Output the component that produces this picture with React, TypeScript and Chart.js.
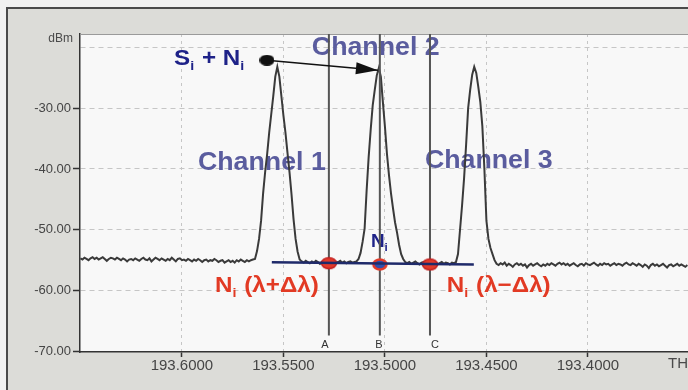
import React, { useEffect, useRef } from "react";
import { Chart, registerables } from "chart.js";

Chart.register(...registerables);

// ---- trace sampling (spectrum analyser grid, THz) ----
const FREQ_START = 193.65;
const FREQ_STEP = 0.001;

// ---- measured power values (dBm), in sample order ----
const noiseLeft = [
  -54.7, -54.9, -54.6, -54.8, -55.0, -54.7, -54.5, -54.8, -54.6, -54.9,
  -54.7, -54.5, -54.8, -55.1, -54.8, -54.6, -54.7, -54.9, -54.6, -54.8,
  -55.0, -54.7, -54.9, -55.2, -54.9, -54.8, -55.0, -54.7, -54.9, -55.1,
  -54.8, -54.6, -54.9, -55.0, -54.7, -55.2, -54.9, -54.6, -54.8, -55.0,
  -54.7, -54.9, -55.1, -54.8, -55.0, -54.6, -54.9, -55.2, -54.8, -54.7,
  -55.0, -54.9, -55.1, -54.8, -55.0, -55.2, -54.9, -55.1, -54.8, -55.0,
  -55.3, -55.0, -54.9, -55.2, -55.0, -55.1, -54.8, -55.0, -55.3, -55.1,
  -55.0, -55.4, -55.2, -55.0, -55.3, -55.1, -55.4, -55.0, -55.2, -54.9,
  -55.1, -55.3, -55.0, -55.2, -55.0, -54.9,
];
const channel1 = [
  -54.8, -53.5, -51.5, -48.5, -44.0, -40.5, -37.5, -34.0, -31.0, -28.0, -24.8,
  -23.2,
  -24.8, -28.0, -31.2, -34.0, -37.3, -40.5, -44.2, -48.3, -51.5, -53.6, -54.9,
];
const noiseBetween12 = [
  -55.2, -55.4, -55.1, -55.3, -55.5, -55.2, -55.4, -55.1, -55.3, -55.6,
  -55.3, -55.2, -55.4, -55.0, -55.3, -55.5, -55.2, -55.4, -55.3, -55.1,
  -55.4, -55.2, -55.5, -55.3, -55.2, -55.4, -55.3,
];
const channel2 = [
  -55.2, -54.8, -53.8, -52.0, -49.8, -43.5, -38.0, -33.5, -29.5, -27.0, -24.6,
  -23.4,
  -24.8, -29.0, -33.0, -37.5, -41.0, -44.0, -46.5, -48.8, -50.5, -52.5, -54.0, -54.8, -55.3,
];
const noiseBetween23 = [
  -55.5, -55.3, -55.6, -55.4, -55.2, -55.5, -55.7, -55.4, -55.3, -55.6,
  -55.4, -55.5, -55.2, -55.6, -55.4, -55.7, -55.5, -55.3, -55.6, -55.4,
  -55.5, -55.7, -55.4, -55.5,
];
const channel3 = [
  -55.3, -54.0, -50.0, -46.0, -41.5, -36.0, -30.0, -27.0, -24.5,
  -23.2,
  -24.2, -26.5, -29.0, -33.0, -40.0, -48.5, -51.5, -53.0, -54.0, -55.0, -55.6,
];
const noiseRight = [
  -55.8, -55.5, -55.7, -55.4, -55.9, -55.6, -55.8, -56.1, -55.7, -55.5,
  -55.8, -55.6, -55.9, -55.7, -56.2, -55.8, -55.6, -55.9, -55.7, -55.5,
  -55.8, -56.0, -55.7, -55.9, -55.6, -55.8, -55.5, -55.7, -55.9, -55.6,
  -55.4, -55.7, -55.5, -55.8, -55.6, -55.9, -55.7, -55.5, -55.8, -56.0,
  -55.7, -55.6, -55.9, -55.5, -55.7, -55.8, -55.6, -55.4, -55.7, -55.9,
  -55.6, -55.8, -55.5, -55.7, -55.6, -55.9, -55.7, -55.5, -55.8, -55.6,
  -55.7, -55.9, -55.6, -55.4, -55.7, -55.8, -55.5, -55.7, -55.9, -55.6,
  -55.8, -56.1, -55.7, -55.9, -56.3, -55.8, -55.6, -55.9, -55.7, -56.0,
  -55.8, -55.6, -55.9, -56.2, -55.8, -55.7, -56.0, -55.8, -55.6, -55.9,
  -55.7, -55.9, -56.1, -55.8,
];
const traceDbm = [
  ...noiseLeft, ...channel1, ...noiseBetween12, ...channel2,
  ...noiseBetween23, ...channel3, ...noiseRight,
];

// ---- axes ----
const xTickValues = [193.4, 193.45, 193.5, 193.55, 193.6];
const yTickValues = [-70, -60, -50, -40, -30, -20];
const xMin = 193.3507;
const xMax = 193.6502;
const yMin = -70.1;
const yMax = -17.8;
const yUnit = "dBm";
const xUnit = "THz";

// ---- markers A / B / C ----
const markerNames = ["A", "B", "C"];
const markerFreqs = [193.5276, 193.5025, 193.4778];
const markerBottomDbm = -67.4;
const markerLabelDbm = -69.5;
const markerLabelFreqs = [193.5296, 193.503, 193.4754];

// ---- noise level line and measuring points ----
const noiseLineFreqs = [193.5557, 193.4562];
const noiseLineDbm = [-55.35, -55.7];
const noisePointDbm = [-55.5, -55.7, -55.7];

// ---- S+N arrow ----
const arrowFreqs = [193.5581, 193.50345];
const arrowDbm = [-22.1, -23.75];

// ---- annotation texts (anchored in data coordinates, left/baseline) ----
const CH_COLOR = "#5a5c9e";
const NAVY = "#1e2288";
const RED = "#e23a24";
type Part = { t: string; sub?: boolean };
const annotations: { parts: Part[]; f: number; db: number; size: number; color: string; stretch: number }[] = [
  { parts: [{ t: "Channel 1" }], f: 193.5921, db: -40.2, size: 25, color: CH_COLOR, stretch: 1.07 },
  { parts: [{ t: "Channel 2" }], f: 193.536, db: -21.3, size: 25, color: CH_COLOR, stretch: 1.07 },
  { parts: [{ t: "Channel 3" }], f: 193.4803, db: -39.9, size: 25, color: CH_COLOR, stretch: 1.07 },
  { parts: [{ t: "S" }, { t: "i", sub: true }, { t: " + N" }, { t: "i", sub: true }], f: 193.6039, db: -22.9, size: 22, color: NAVY, stretch: 1.1 },
  { parts: [{ t: "N" }, { t: "i", sub: true }], f: 193.5069, db: -52.9, size: 18, color: NAVY, stretch: 1.05 },
  { parts: [{ t: "N" }, { t: "i", sub: true }, { t: " (λ+Δλ)" }], f: 193.5837, db: -60.3, size: 22, color: RED, stretch: 1.1 },
  { parts: [{ t: "N" }, { t: "i", sub: true }, { t: " (λ−Δλ)" }], f: 193.4695, db: -60.3, size: 22, color: RED, stretch: 1.1 },
];

const FONT = '"Liberation Sans", Arial, sans-serif';

function ellipseImage(fill: string, stroke: string, w: number, h: number, lw: number) {
  const c = document.createElement("canvas");
  c.width = Math.ceil(w + lw * 2);
  c.height = Math.ceil(h + lw * 2);
  const g = c.getContext("2d")!;
  g.beginPath();
  g.ellipse(c.width / 2, c.height / 2, w / 2, h / 2, 0, 0, Math.PI * 2);
  g.fillStyle = fill;
  g.fill();
  if (lw > 0) {
    g.lineWidth = lw;
    g.strokeStyle = stroke;
    g.stroke();
  }
  return c;
}

const framePlugin = {
  id: "frame",
  beforeDraw(chart: any) {
    const { ctx, width, height, chartArea } = chart;
    ctx.save();
    ctx.fillStyle = "#f1f1f1";
    ctx.fillRect(0, 0, width, height);
    ctx.fillStyle = "#dcdcd8";
    ctx.fillRect(7, 8, width - 7, height - 8);
    ctx.strokeStyle = "#4a4a4a";
    ctx.lineWidth = 2;
    ctx.beginPath();
    ctx.moveTo(7, height);
    ctx.lineTo(7, 8);
    ctx.lineTo(width, 8);
    ctx.stroke();
    ctx.fillStyle = "#f8f8f8";
    ctx.fillRect(chartArea.left, chartArea.top, chartArea.right - chartArea.left, chartArea.bottom - chartArea.top);
    ctx.restore();
  },
  beforeDatasetsDraw(chart: any) {
    const { ctx, chartArea, scales } = chart;
    const xs = scales.x;
    const ys = scales.y;
    ctx.save();
    ctx.strokeStyle = "#9a9a9a";
    ctx.lineWidth = 1;
    ctx.beginPath();
    ctx.moveTo(chartArea.left, chartArea.top + 0.5);
    ctx.lineTo(chartArea.right, chartArea.top + 0.5);
    ctx.stroke();

    // annotations (drawn beneath the traces, as in the original)
    ctx.textAlign = "left";
    ctx.textBaseline = "alphabetic";
    annotations.forEach((a) => {
      const px = xs.getPixelForValue(a.f);
      const py = ys.getPixelForValue(a.db);
      ctx.save();
      ctx.translate(px, py);
      ctx.scale(a.stretch, 1);
      ctx.fillStyle = a.color;
      let cx = 0;
      a.parts.forEach((p) => {
        const sz = p.sub ? Math.round(a.size * 0.6) : a.size;
        ctx.font = `bold ${sz}px ${FONT}`;
        ctx.fillText(p.t, cx, p.sub ? a.size * 0.22 : 0);
        cx += ctx.measureText(p.t).width + (p.sub ? 1 : 0);
      });
      ctx.restore();
    });
    ctx.restore();
  },
  afterDatasetsDraw(chart: any) {
    const { ctx, chartArea, scales } = chart;
    const xs = scales.x;
    const ys = scales.y;
    ctx.save();
    // arrow head
    const x0 = xs.getPixelForValue(arrowFreqs[0]);
    const y0 = ys.getPixelForValue(arrowDbm[0]);
    const x1 = xs.getPixelForValue(arrowFreqs[1]);
    const y1 = ys.getPixelForValue(arrowDbm[1]);
    const ang = Math.atan2(y1 - y0, x1 - x0);
    const L = 22, W = 6;
    ctx.fillStyle = "#111";
    ctx.beginPath();
    ctx.moveTo(x1, y1);
    ctx.lineTo(x1 - L * Math.cos(ang) + W * Math.sin(ang), y1 - L * Math.sin(ang) - W * Math.cos(ang));
    ctx.lineTo(x1 - L * Math.cos(ang) - W * Math.sin(ang), y1 - L * Math.sin(ang) + W * Math.cos(ang));
    ctx.closePath();
    ctx.fill();

    // marker letters
    ctx.fillStyle = "#333";
    ctx.font = `11px ${FONT}`;
    ctx.textAlign = "center";
    ctx.textBaseline = "alphabetic";
    markerNames.forEach((n, i) => {
      ctx.fillText(n, xs.getPixelForValue(markerLabelFreqs[i]), ys.getPixelForValue(markerLabelDbm));
    });

    // units
    ctx.fillStyle = "#4a4a4a";
    ctx.font = `12px ${FONT}`;
    ctx.textAlign = "right";
    ctx.fillText(yUnit, chartArea.left - 7, chartArea.top + 8);
    ctx.font = `15px ${FONT}`;
    ctx.textAlign = "left";
    ctx.fillText(xUnit, chartArea.right - 20, chartArea.bottom + 16);
    ctx.restore();
  },
};

export default function App() {
  const ref = useRef<HTMLCanvasElement | null>(null);

  useEffect(() => {
    const canvas = ref.current;
    if (!canvas) return;

    const redEllipse = ellipseImage("#e23a2a", "#c42020", 15, 11, 1.5);
    const blueEllipse = ellipseImage("#2f4fae", "#e23a2a", 13, 10, 2.5);
    const blackDot = ellipseImage("#111111", "#111111", 15, 11, 0);

    const datasets: any[] = [
      {
        label: "noise level",
        data: noiseLineFreqs.map((f, i) => ({ x: f, y: noiseLineDbm[i] })),
        borderColor: "#1f2a6a",
        borderWidth: 2.5,
        pointRadius: 0,
        order: 0,
      },
      {
        label: "arrow",
        data: arrowFreqs.map((f, i) => ({ x: f, y: arrowDbm[i] })),
        borderColor: "#111",
        borderWidth: 1.5,
        pointStyle: [blackDot, "circle"],
        pointRadius: [7, 0],
        order: 0,
      },
      {
        label: "points",
        data: markerFreqs.map((f, i) => ({ x: f, y: noisePointDbm[i] })),
        showLine: false,
        pointStyle: [redEllipse, blueEllipse, redEllipse],
        pointRadius: 7,
        order: 1,
      },
      ...markerFreqs.map((f, i) => ({
        label: markerNames[i],
        data: [
          { x: f, y: yMax },
          { x: f, y: markerBottomDbm },
        ],
        borderColor: "#555",
        borderWidth: 2,
        pointRadius: 0,
        order: 2,
      })),
      {
        label: "trace",
        data: traceDbm.map((y, i) => ({ x: FREQ_START - FREQ_STEP * i, y })),
        borderColor: "#3a3a3a",
        borderWidth: 2,
        pointRadius: 0,
        tension: 0,
        order: 3,
      },
    ];

    const chart = new Chart(canvas, {
      type: "line",
      data: { datasets },
      options: {
        animation: false,
        responsive: false,
        events: [],
        layout: { autoPadding: false, padding: { left: 0, right: 0, top: 34, bottom: 0 } },
        plugins: { legend: { display: false }, tooltip: { enabled: false } },
        scales: {
          x: {
            type: "linear",
            reverse: true,
            min: xMin,
            max: xMax,
            afterBuildTicks: (s: any) => {
              s.ticks = xTickValues.map((v) => ({ value: v }));
            },
            afterFit: (s: any) => {
              s.height = 38;
              s.paddingLeft = 0;
              s.paddingRight = 0;
            },
            ticks: {
              autoSkip: false,
              maxRotation: 0,
              padding: 0,
              color: "#454545",
              font: { family: FONT, size: 15 },
              callback: (v: any) => Number(v).toFixed(4),
            },
            grid: {
              color: "#c6c6c6",
              lineWidth: 1,
              tickLength: 5,
              tickColor: "#333",
              tickWidth: 1.5,
            },
            border: { display: true, color: "#333", width: 1.5, dash: [3, 4] },
          },
          y: {
            type: "linear",
            min: yMin,
            max: yMax,
            afterBuildTicks: (s: any) => {
              s.ticks = yTickValues.map((v) => ({ value: v }));
            },
            afterFit: (s: any) => {
              s.width = 80;
              s.paddingTop = 0;
              s.paddingBottom = 0;
            },
            ticks: {
              autoSkip: false,
              padding: 2,
              color: "#454545",
              font: { family: FONT, size: 13 },
              callback: (v: any) => (Number(v) === -20 ? "" : Number(v).toFixed(2)),
            },
            grid: {
              color: "#c6c6c6",
              lineWidth: 1,
              tickLength: 7,
              tickColor: (c: any) => (c.tick && c.tick.value === -20 ? "rgba(0,0,0,0)" : "#333"),
              tickWidth: 1.5,
            },
            border: { display: true, color: "#333", width: 1.5, dash: [5, 4] },
          },
        },
      },
      plugins: [framePlugin],
    });

    return () => chart.destroy();
  }, []);

  return (
    <div style={{ position: "fixed", left: 0, top: 0, width: 688, height: 390 }}>
      <canvas ref={ref} width={688} height={390} style={{ display: "block" }} />
    </div>
  );
}
